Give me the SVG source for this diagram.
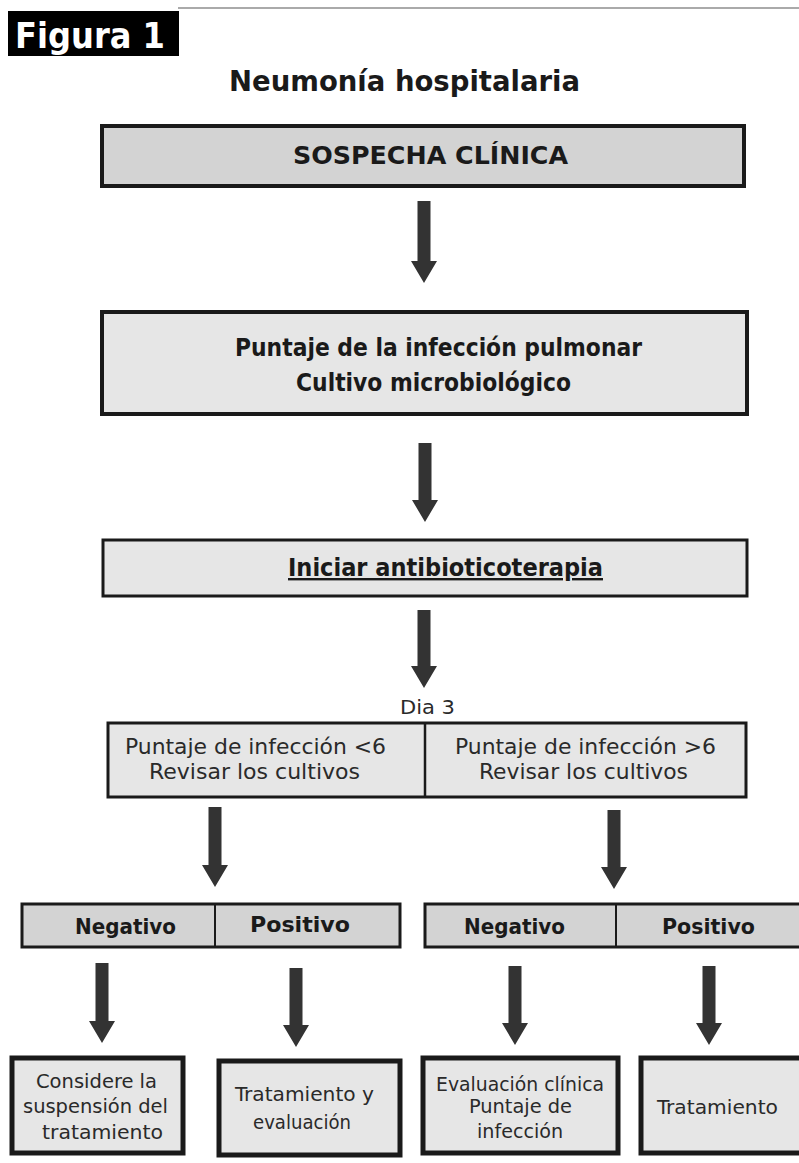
<svg xmlns="http://www.w3.org/2000/svg" width="799" height="1163" viewBox="0 0 799 1163">
<style>
.b{font-family:'DejaVu Sans Condensed','DejaVu Sans',sans-serif;font-stretch:condensed;font-weight:bold;fill:#1a1a1a;text-anchor:middle}
.r{font-family:'DejaVu Sans Condensed','DejaVu Sans',sans-serif;font-stretch:condensed;fill:#2a2a2a;text-anchor:middle}
.dk{fill:#d3d3d3;stroke:#1a1a1a}
.lt{fill:#e6e6e6;stroke:#1a1a1a}
.ar{fill:#333}
</style>
<rect width="799" height="1163" fill="#fff"/>
<line x1="178" y1="8" x2="799" y2="8" stroke="#aaa" stroke-width="2"/>
<g id="figura">
<rect x="8" y="11" width="171" height="45" fill="#000"/>
<text x="90" y="48" class="b" style="fill:#fff" font-size="36" textLength="150" lengthAdjust="spacingAndGlyphs">Figura 1</text>
</g>
<text id="title" x="404.5" y="91" class="b" font-size="29" textLength="351" lengthAdjust="spacingAndGlyphs">Neumonía  hospitalaria</text>
<g id="n1">
<rect x="102" y="126" width="642" height="60" class="dk" stroke-width="4"/>
<text x="430.5" y="164" class="b" font-size="24" textLength="275" lengthAdjust="spacingAndGlyphs">SOSPECHA CLÍNICA</text>
</g>
<g id="n2">
<rect x="102" y="312" width="645" height="102" class="lt" stroke-width="4"/>
<text x="438.5" y="356" class="b" font-size="24" textLength="407" lengthAdjust="spacingAndGlyphs">Puntaje de la infección pulmonar</text>
<text x="433.5" y="391" class="b" font-size="24" textLength="275" lengthAdjust="spacingAndGlyphs">Cultivo microbiológico</text>
</g>
<g id="n3">
<rect x="103" y="540" width="644" height="56" class="lt" stroke-width="3"/>
<text x="445.5" y="576" class="b" font-size="24" textLength="315" lengthAdjust="spacingAndGlyphs" text-decoration="underline">Iniciar antibioticoterapia</text>
</g>
<text id="dia3" x="427.5" y="714" class="r" font-size="20" textLength="55" lengthAdjust="spacingAndGlyphs">Dia 3</text>
<g id="n4">
<rect x="108" y="723" width="638" height="74" class="lt" stroke-width="3"/>
<line x1="425" y1="723" x2="425" y2="797" stroke="#1a1a1a" stroke-width="2.5"/>
<text x="255.5" y="754" class="r" font-size="22" textLength="261" lengthAdjust="spacingAndGlyphs">Puntaje de infección &lt;6</text>
<text x="254.5" y="779" class="r" font-size="22" textLength="211" lengthAdjust="spacingAndGlyphs">Revisar los cultivos</text>
<text x="585.5" y="754" class="r" font-size="22" textLength="261" lengthAdjust="spacingAndGlyphs">Puntaje de infección &gt;6</text>
<text x="583.5" y="779" class="r" font-size="22" textLength="209" lengthAdjust="spacingAndGlyphs">Revisar los cultivos</text>
</g>
<g id="barL">
<rect x="22" y="904" width="378" height="43" class="dk" stroke-width="3"/>
<line x1="215" y1="904" x2="215" y2="947" stroke="#1a1a1a" stroke-width="2"/>
<text x="125.5" y="934" class="b" font-size="22" textLength="101" lengthAdjust="spacingAndGlyphs">Negativo</text>
<text x="300" y="932" class="b" font-size="22" textLength="100" lengthAdjust="spacingAndGlyphs">Positivo</text>
</g>
<g id="barR">
<rect x="425" y="904" width="378" height="43" class="dk" stroke-width="3"/>
<line x1="616" y1="904" x2="616" y2="947" stroke="#1a1a1a" stroke-width="2"/>
<text x="514.5" y="934" class="b" font-size="22" textLength="101" lengthAdjust="spacingAndGlyphs">Negativo</text>
<text x="708.5" y="934" class="b" font-size="22" textLength="93" lengthAdjust="spacingAndGlyphs">Positivo</text>
</g>
<g id="nA">
<rect x="12" y="1058" width="171" height="95" class="lt" stroke-width="5"/>
<text x="96.5" y="1088" class="r" font-size="20" textLength="121" lengthAdjust="spacingAndGlyphs">Considere la</text>
<text x="95.5" y="1113" class="r" font-size="20" textLength="145" lengthAdjust="spacingAndGlyphs">suspensión del</text>
<text x="102.5" y="1139" class="r" font-size="20" textLength="121" lengthAdjust="spacingAndGlyphs">tratamiento</text>
</g>
<g id="nB">
<rect x="219" y="1061" width="181" height="94" class="lt" stroke-width="5"/>
<text x="304.5" y="1101" class="r" font-size="20" textLength="139" lengthAdjust="spacingAndGlyphs">Tratamiento y</text>
<text x="302" y="1129" class="r" font-size="20" textLength="98" lengthAdjust="spacingAndGlyphs">evaluación</text>
</g>
<g id="nC">
<rect x="423" y="1058" width="195" height="95" class="lt" stroke-width="5"/>
<text x="520" y="1091" class="r" font-size="20" textLength="168" lengthAdjust="spacingAndGlyphs">Evaluación clínica</text>
<text x="520.5" y="1113" class="r" font-size="20" textLength="103" lengthAdjust="spacingAndGlyphs">Puntaje de</text>
<text x="520" y="1138" class="r" font-size="20" textLength="86" lengthAdjust="spacingAndGlyphs">infección</text>
</g>
<g id="nD">
<rect x="641" y="1058" width="165" height="95" class="lt" stroke-width="5"/>
<text x="717.5" y="1114" class="r" font-size="20" textLength="121" lengthAdjust="spacingAndGlyphs">Tratamiento</text>
</g>
<g id="connectors" class="ar">
<path d="M417.5,201 H430.5 V261 H437 L424,283 L411,261 H417.5 Z"/>
<path d="M418.5,443 H431.5 V500 H438 L425,522 L412,500 H418.5 Z"/>
<path d="M417.5,610 H430.5 V666 H437 L424,688 L411,666 H417.5 Z"/>
<path d="M208.5,807 H221.5 V865 H228 L215,887 L202,865 H208.5 Z"/>
<path d="M607.5,810 H620.5 V867 H627 L614,889 L601,867 H607.5 Z"/>
<path d="M95.5,963 H108.5 V1021 H115 L102,1043 L89,1021 H95.5 Z"/>
<path d="M289.5,968 H302.5 V1025 H309 L296,1047 L283,1025 H289.5 Z"/>
<path d="M508.5,966 H521.5 V1023 H528 L515,1045 L502,1023 H508.5 Z"/>
<path d="M702.5,966 H715.5 V1023 H722 L709,1045 L696,1023 H702.5 Z"/>
</g>
</svg>
